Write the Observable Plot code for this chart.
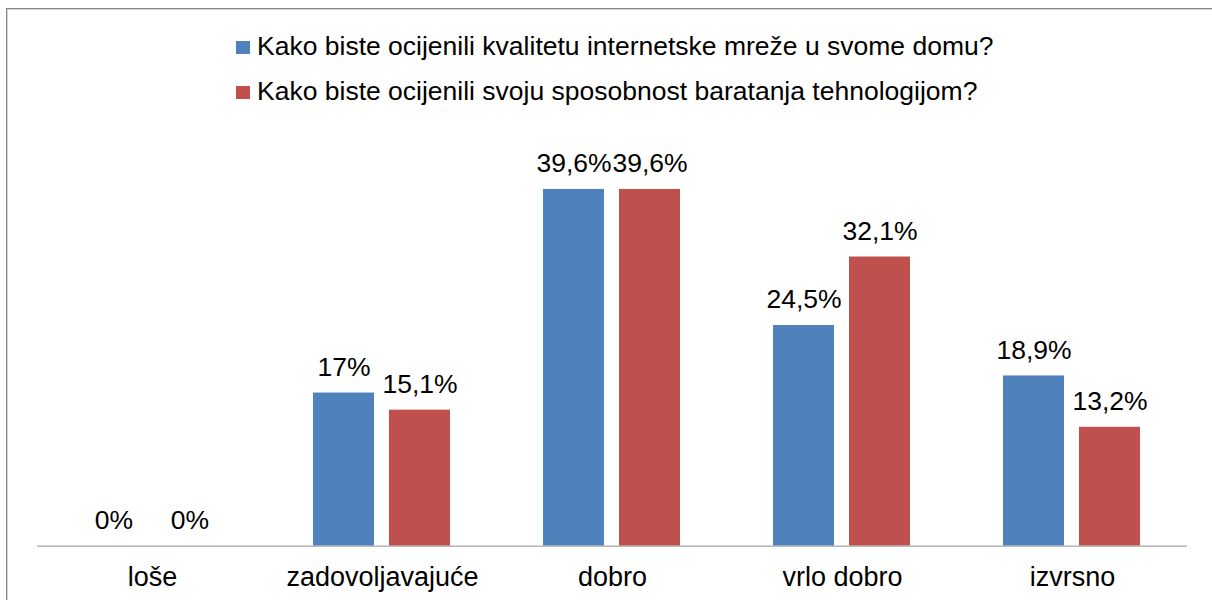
<!DOCTYPE html>
<html>
<head>
<meta charset="utf-8">
<script src="https://cdn.jsdelivr.net/npm/d3@7"></script>
<script src="https://cdn.jsdelivr.net/npm/@observablehq/plot@0.6"></script>
<style>
  html, body { margin: 0; padding: 0; background: #fff; }
  #wrap { position: relative; width: 1212px; height: 600px; overflow: hidden; font-family: "Liberation Sans", Arial, sans-serif; }
  #frame { position: absolute; left: 6px; top: 8px; width: 1300px; height: 700px;
           border-top: 1px solid #858585; border-left: 1px solid #858585;
           box-shadow: inset 1px 1px 0 #d4d4d4; pointer-events: none; }
  .leg { position: absolute; left: 236px; font-size: 26.5px; line-height: 26.5px; color: #000; white-space: nowrap; }
  .leg .sw { position: absolute; left: 0; width: 14px; height: 13px; }
  .leg .lt { position: absolute; left: 21px; top: 0; }
  #chart { position: absolute; left: 0; top: 0; }
</style>
</head>
<body>
<div id="wrap">
  <div id="frame"></div>
  <div id="chart"></div>
  <div id="legend"></div>
</div>
<script>
const categories = ["loše", "zadovoljavajuće", "dobro", "vrlo dobro", "izvrsno"];
const seriesNames = [
  "Kako biste ocijenili kvalitetu internetske mreže u svome domu?",
  "Kako biste ocijenili svoju sposobnost baratanja tehnologijom?"
];
const seriesColors = ["#4F81BD", "#C0504D"];
const internetValues = [0, 17, 39.6, 24.5, 18.9];
const techValues = [0, 15.1, 39.6, 32.1, 13.2];

const rows = [];
categories.forEach((c, i) => {
  rows.push({category: c, series: seriesNames[0], value: internetValues[i]});
  rows.push({category: c, series: seriesNames[1], value: techValues[i]});
});
const fmt = v => String(v).replace(".", ",") + "%";

const chart = Plot.plot({
  width: 1212,
  height: 600,
  marginLeft: 36,
  marginRight: 25,
  marginTop: 140.3,
  marginBottom: 54.3,
  style: {fontFamily: "'Liberation Sans', Arial, sans-serif", background: "transparent", overflow: "visible", color: "#000"},
  fx: {domain: categories, padding: 0, label: null},
  x: {domain: seriesNames, paddingInner: 0.196, paddingOuter: 0.603, axis: null},
  y: {domain: [0, 45], axis: null},
  color: {domain: seriesNames, range: seriesColors},
  marks: [
    Plot.barY(rows, {fx: "category", x: "series", y: "value", fill: "series"}),
    Plot.ruleY([0], {stroke: "#a6a6a6", strokeWidth: 1.3}),
    Plot.text(rows, {fx: "category", x: "series", y: "value", text: d => fmt(d.value), dy: -25.5, fontSize: 26.5, fill: "#000"}),
    Plot.axisFx({anchor: "bottom", tickSize: 0, tickPadding: 21, fontSize: 27, label: null, fill: "#000"})
  ]
});
document.getElementById("chart").appendChild(chart);

const legend = document.getElementById("legend");
const legendTops = [32.6, 77.6];
seriesNames.forEach((name, i) => {
  const item = document.createElement("div");
  item.className = "leg";
  item.style.top = legendTops[i] + "px";
  const sw = document.createElement("span");
  sw.className = "sw";
  sw.style.background = seriesColors[i];
  sw.style.top = "8.5px";
  const lt = document.createElement("span");
  lt.className = "lt";
  lt.textContent = name;
  item.appendChild(sw);
  item.appendChild(lt);
  legend.appendChild(item);
});
</script>
</body>
</html>
